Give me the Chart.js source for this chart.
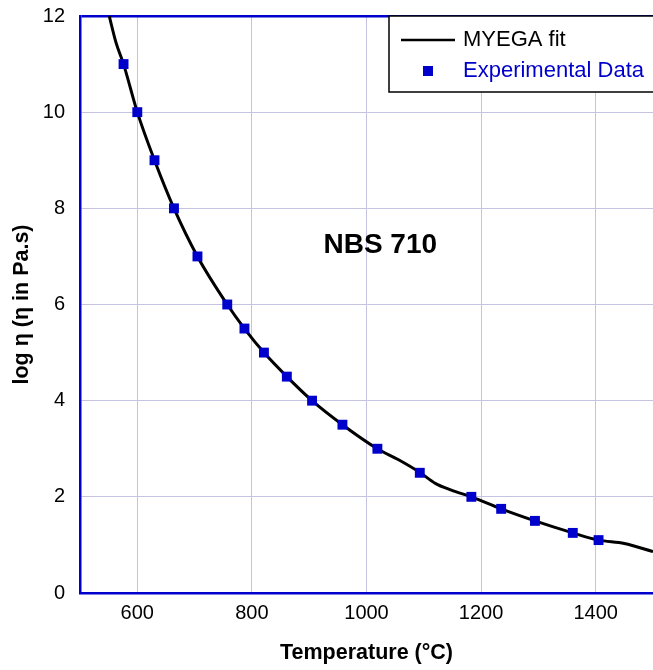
<!DOCTYPE html>
<html>
<head>
<meta charset="utf-8">
<script src="https://cdn.jsdelivr.net/npm/chart.js@4/dist/chart.umd.min.js"></script>
<style>
  html, body { margin: 0; padding: 0; background: #fff; overflow: hidden; width: 653px; height: 670px; }
  canvas { display: block; }
</style>
</head>
<body>
<canvas id="viscoChart" width="660" height="670"></canvas>
<script>
// --- Données ---
// Courbe MYEGA
const fitTemps = [551, 563, 576, 600, 630, 664, 705, 757, 787, 821, 861, 905, 958, 1019, 1056, 1094, 1120, 1148, 1183, 1235, 1294, 1360, 1405, 1450, 1500];
const fitLogVisc = [12, 11.44, 11, 10, 9, 8, 7, 6, 5.5, 5, 4.5, 4, 3.5, 3, 2.77, 2.5, 2.28, 2.14, 2, 1.75, 1.5, 1.25, 1.1, 1.03, 0.86];

// Points expérimentaux
const expTemps = [576, 600, 630, 664, 705, 757, 787, 821, 861, 905, 958, 1019, 1093, 1183, 1235, 1294, 1360, 1405];
const expLogVisc = [11, 10, 9, 8, 7, 6, 5.5, 5, 4.5, 4, 3.5, 3, 2.5, 2, 1.75, 1.5, 1.25, 1.1];

const xTickValues = [600, 800, 1000, 1200, 1400];
const yTickValues = [0, 2, 4, 6, 8, 10, 12];
const seriesLabels = ['MYEGA fit', 'Experimental Data'];
const annotationText = 'NBS 710';

const FONT = "'Liberation Sans', Arial, sans-serif";
const BLUE = '#0000cc';
const GRID = '#c4c4e2';

// --- Légende encadrée + texte NBS 710 ---
const overlayPlugin = {
    id: 'overlay',
    afterDraw(chart) {
        const { ctx, scales } = chart;
        ctx.save();
        // annotation
        ctx.font = `bold 28px ${FONT}`;
        ctx.fillStyle = '#000';
        ctx.textAlign = 'center';
        ctx.textBaseline = 'middle';
        ctx.fillText(annotationText, scales.x.getPixelForValue(1024), scales.y.getPixelForValue(7.24));

        // légende
        ctx.fillStyle = '#fff';
        ctx.fillRect(389, 16, 300, 76);
        ctx.strokeStyle = '#000';
        ctx.lineWidth = 1.5;
        ctx.strokeRect(389, 16, 300, 76);

        ctx.beginPath();
        ctx.moveTo(401, 40);
        ctx.lineTo(455, 40);
        ctx.lineWidth = 2.5;
        ctx.stroke();
        ctx.fillStyle = BLUE;
        ctx.fillRect(423, 66, 10, 10);

        ctx.font = `22px ${FONT}`;
        ctx.textAlign = 'left';
        ctx.fillStyle = '#000';
        ctx.fillText(seriesLabels[0], 463, 40);
        ctx.fillStyle = BLUE;
        ctx.fillText(seriesLabels[1], 463, 71);
        ctx.restore();
    }
};

new Chart(document.getElementById('viscoChart'), {
    type: 'scatter',
    data: {
        datasets: [{
            label: seriesLabels[0],
            data: fitTemps.map((t, i) => ({ x: t, y: fitLogVisc[i] })),
            showLine: true,
            borderColor: '#000',
            borderWidth: 3,
            pointRadius: 0,
            tension: 0.3,
            cubicInterpolationMode: 'monotone',
            order: 2
        }, {
            label: seriesLabels[1],
            data: expTemps.map((t, i) => ({ x: t, y: expLogVisc[i] })),
            showLine: false,
            pointStyle: 'rect',
            pointRadius: 7,
            backgroundColor: BLUE,
            borderColor: BLUE,
            borderWidth: 0,
            order: 1
        }]
    },
    options: {
        responsive: false,
        animation: false,
        layout: { padding: { top: 16, right: 5, left: 0, bottom: 0 } },
        plugins: { legend: { display: false }, tooltip: { enabled: false } },
        scales: {
            x: {
                type: 'linear',
                min: 500,
                max: 1500,
                afterBuildTicks: scale => { scale.ticks = xTickValues.map(v => ({ value: v })); },
                afterFit: scale => { scale.height = 77; scale.paddingLeft = 0; scale.paddingRight = 0; },
                grid: { color: GRID, lineWidth: 1, drawTicks: false },
                border: { color: BLUE, width: 2.5 },
                ticks: { color: '#000', padding: 8, font: { family: FONT, size: 20 }, callback: v => String(v) },
                title: {
                    display: true,
                    text: 'Temperature (°C)',
                    color: '#000',
                    font: { family: FONT, size: 21.5, weight: 'bold' },
                    padding: { top: 0, bottom: 4 }
                }
            },
            y: {
                type: 'linear',
                min: 0,
                max: 12,
                afterBuildTicks: scale => { scale.ticks = yTickValues.map(v => ({ value: v })); },
                afterFit: scale => { scale.width = 80; scale.paddingTop = 0; scale.paddingBottom = 0; },
                grid: {
                    color: c => c.tick && c.tick.value === 12 ? BLUE : GRID,
                    lineWidth: c => c.tick && c.tick.value === 12 ? 2.5 : 1,
                    drawTicks: false
                },
                border: { color: BLUE, width: 2.5 },
                ticks: { color: '#000', padding: 15, font: { family: FONT, size: 20 }, callback: v => String(v) },
                title: {
                    display: true,
                    text: 'log η (η in Pa.s)',
                    color: '#000',
                    font: { family: FONT, size: 21.5, weight: 'bold' },
                    padding: { top: 9, bottom: 0 }
                }
            }
        }
    },
    plugins: [overlayPlugin]
});
</script>
</body>
</html>
